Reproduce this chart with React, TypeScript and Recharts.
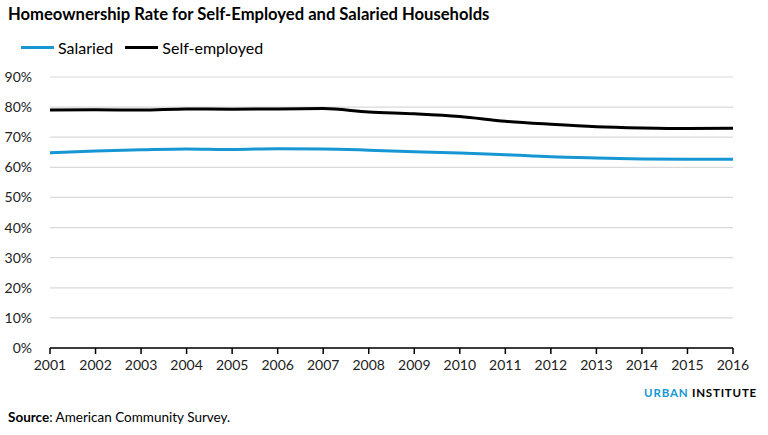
import React from 'react';
import { LineChart, Line, XAxis, YAxis, CartesianGrid } from 'recharts';

const years = ['2001','2002','2003','2004','2005','2006','2007','2008','2009','2010','2011','2012','2013','2014','2015','2016'];
const salaried = [64.8, 65.4, 65.8, 66.1, 65.9, 66.2, 66.1, 65.7, 65.2, 64.8, 64.2, 63.5, 63.1, 62.8, 62.7, 62.7];
const selfEmployed = [79.0, 79.1, 79.0, 79.4, 79.3, 79.4, 79.5, 78.4, 77.8, 76.9, 75.3, 74.3, 73.5, 73.1, 72.9, 73.0];
const yTicks = [0, 10, 20, 30, 40, 50, 60, 70, 80, 90];

const data = years.map((y, i) => ({ year: y, Salaried: salaried[i], 'Self-employed': selfEmployed[i] }));

const BLUE = '#1696d2';
const FONT = 'Lato, "Noto Sans", sans-serif';

const legendItems = [
  { name: 'Salaried', color: BLUE },
  { name: 'Self-employed', color: '#000000' },
];

export default function App() {
  return (
    <div style={{ position: 'absolute', left: 0, top: 0, width: 768, height: 435, background: '#fff', fontFamily: FONT }}>
      <div style={{ position: 'absolute', left: 8, top: 4, fontSize: 16.6, fontWeight: 700, color: '#000' }}>
        Homeownership Rate for Self-Employed and Salaried Households
      </div>
      <div style={{ position: 'absolute', left: 21, top: 38, display: 'flex', alignItems: 'center', fontSize: 16, color: '#000' }}>
        {legendItems.map((it) => (
          <div key={it.name} style={{ display: 'flex', alignItems: 'center', marginRight: 12 }}>
            <div style={{ width: 33, height: 3, background: it.color, marginRight: 4 }} />
            <span>{it.name}</span>
          </div>
        ))}
      </div>
      <LineChart width={768} height={435} data={data} margin={{ top: 77, right: 35, bottom: 57, left: 0 }}>
        <CartesianGrid horizontal={true} vertical={false} stroke="#d9d9d9" strokeWidth={1.2} />
        <XAxis
          dataKey="year"
          axisLine={{ stroke: '#000', strokeWidth: 1.5 }}
          tickLine={{ stroke: '#000', strokeWidth: 1.5 }}
          tickSize={6}
          tickMargin={6}
          interval={0}
          tick={{ fill: '#222', fontSize: 14, fontFamily: FONT }}
        />
        <YAxis
          width={50}
          domain={[0, 90]}
          ticks={yTicks}
          tickFormatter={(v) => `${v}%`}
          axisLine={false}
          tickLine={false}
          tickMargin={12}
          tick={{ fill: '#222', fontSize: 14, fontFamily: FONT }}
        />
        <Line type="monotone" dataKey="Salaried" stroke={BLUE} strokeWidth={3} dot={false} isAnimationActive={false} />
        <Line type="monotone" dataKey="Self-employed" stroke="#000" strokeWidth={3} dot={false} isAnimationActive={false} />
      </LineChart>
      <div style={{ position: 'absolute', right: 11, top: 386, fontSize: 11.5, fontWeight: 700, letterSpacing: 0.8 }}>
        <span style={{ color: BLUE }}>URBAN</span> <span style={{ color: '#000' }}>INSTITUTE</span>
      </div>
      <div style={{ position: 'absolute', left: 8, top: 409, fontSize: 13.5, color: '#000' }}>
        <span style={{ fontWeight: 700 }}>Source</span>: American Community Survey.
      </div>
    </div>
  );
}
